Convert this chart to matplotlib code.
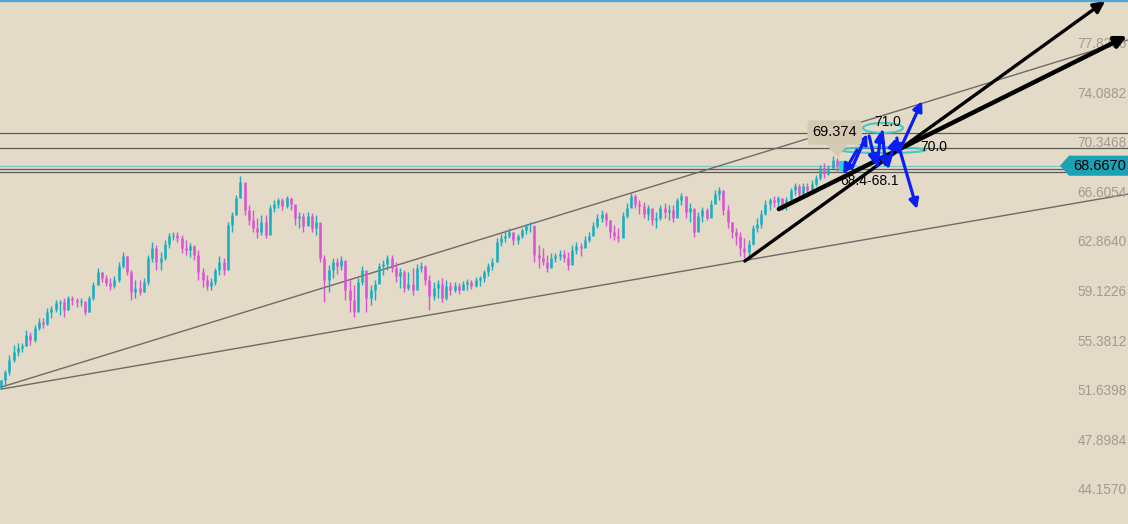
import matplotlib.pyplot as plt
from matplotlib.patches import Ellipse, Polygon, FancyBboxPatch, Rectangle

plt.rcParams['font.family'] = ['Liberation Sans', 'Noto Sans CJK SC', 'DejaVu Sans']

# daily candles: close / high / low (open = previous close)
first_open = 51.90
closes = [52.46, 53.07, 53.97, 54.58, 54.88, 55.03, 55.86, 55.49, 56.39, 56.85,
          56.70, 57.60, 57.83, 58.28, 58.36, 57.75, 58.66, 58.51, 58.36, 58.43,
          57.60, 58.66, 59.64, 60.63, 60.17, 59.80, 59.57, 60.02, 61.08, 61.84,
          60.63, 59.12, 59.42, 59.12, 59.87, 61.69, 62.44, 61.38, 61.69, 62.74,
          63.35, 63.42, 63.20, 62.44, 62.29, 62.59, 61.91, 60.63, 60.02, 59.57,
          59.87, 60.78, 61.38, 60.78, 64.18, 64.94, 66.22, 67.43, 65.32, 64.56,
          63.95, 63.65, 64.41, 63.42, 65.47, 65.77, 66.07, 65.62, 66.22, 65.77,
          64.71, 64.86, 64.11, 64.86, 63.95, 64.41, 61.69, 60.02, 60.78, 61.38,
          61.08, 61.53, 59.27, 58.51, 57.60, 59.87, 60.78, 58.66, 59.27, 59.72,
          61.08, 61.23, 61.69, 60.93, 60.33, 60.63, 59.42, 59.72, 59.27, 60.93,
          61.08, 60.02, 58.81, 59.42, 59.72, 58.66, 59.57, 59.27, 59.57, 59.27,
          59.72, 59.87, 59.57, 60.02, 60.17, 60.63, 61.08, 61.38, 62.89, 63.20,
          63.35, 63.65, 63.05, 63.35, 63.80, 64.11, 64.11, 61.91, 61.69, 61.38,
          60.93, 61.69, 61.84, 61.99, 61.69, 61.16, 62.29, 62.59, 62.44, 63.05,
          63.35, 64.11, 64.71, 65.01, 64.56, 63.65, 63.35, 63.20, 64.86, 65.47,
          66.37, 65.77, 65.62, 65.01, 65.47, 64.56, 64.71, 65.47, 65.16, 65.32,
          64.71, 66.07, 66.37, 65.16, 65.47, 63.65, 64.86, 65.32, 64.71, 65.77,
          66.52, 66.83, 65.32, 64.41, 63.65, 63.35, 62.44, 62.14, 62.74, 63.95,
          64.26, 65.01, 65.77, 66.07, 65.92, 66.22, 65.62, 66.07, 66.83, 67.13,
          66.52, 67.13, 66.83, 67.28, 67.73, 68.49, 68.04, 68.49, 69.09, 68.667]
highs = [52.46, 53.22, 54.35, 55.11, 55.26, 55.26, 56.24, 56.09, 56.62, 57.15,
         57.15, 57.90, 58.06, 58.51, 58.51, 58.66, 58.81, 58.81, 58.66, 58.66,
         58.36, 58.81, 59.87, 60.93, 60.63, 60.40, 60.17, 60.33, 61.38, 62.14,
         61.84, 60.78, 60.02, 60.02, 60.17, 61.91, 62.89, 62.67, 62.14, 63.05,
         63.58, 63.65, 63.65, 63.42, 63.05, 62.82, 62.67, 62.29, 60.93, 60.40,
         60.17, 60.93, 61.84, 61.69, 64.41, 65.16, 66.45, 67.88, 67.20, 65.69,
         65.32, 64.71, 64.94, 64.94, 65.69, 66.07, 66.22, 66.22, 66.37, 66.22,
         65.69, 65.16, 65.09, 65.16, 65.09, 64.94, 64.18, 61.91, 61.16, 61.69,
         61.69, 61.84, 61.38, 60.02, 59.64, 60.17, 61.08, 60.40, 59.64, 60.02,
         61.31, 61.53, 61.91, 61.91, 61.38, 60.93, 60.78, 60.63, 60.93, 61.23,
         61.38, 61.16, 60.40, 59.87, 60.02, 60.17, 60.02, 59.87, 59.87, 59.79,
         59.95, 60.10, 60.02, 60.25, 60.33, 60.78, 61.31, 61.69, 63.20, 63.50,
         63.80, 63.95, 63.65, 63.50, 63.95, 64.26, 64.41, 64.18, 62.67, 62.44,
         61.91, 62.06, 62.06, 62.29, 62.29, 62.14, 62.67, 62.89, 62.82, 63.35,
         63.65, 64.41, 65.01, 65.32, 65.16, 64.56, 64.18, 63.95, 65.16, 65.84,
         66.60, 66.52, 66.07, 65.92, 65.69, 65.32, 65.16, 65.69, 65.84, 65.69,
         65.69, 66.22, 66.60, 66.37, 65.84, 65.32, 65.16, 65.54, 65.47, 66.07,
         66.83, 67.05, 66.67, 65.69, 64.41, 63.95, 63.65, 63.20, 63.05, 64.18,
         64.71, 65.32, 66.07, 66.22, 66.37, 66.37, 66.22, 66.30, 66.98, 67.36,
         67.28, 67.36, 67.36, 67.58, 67.96, 68.72, 68.87, 68.72, 69.374, 69.25]
lows = [51.86, 52.08, 52.84, 53.82, 54.28, 54.58, 55.03, 55.11, 55.33, 56.24,
        56.39, 56.62, 57.15, 57.60, 57.37, 57.22, 57.75, 58.13, 57.98, 58.06,
        57.37, 57.60, 58.51, 59.64, 59.87, 59.57, 59.27, 59.42, 59.87, 60.93,
        60.40, 58.51, 58.66, 58.89, 59.12, 59.64, 61.38, 60.78, 60.78, 61.53,
        62.44, 63.05, 62.89, 62.06, 61.91, 61.76, 61.53, 60.02, 59.49, 59.27,
        59.27, 59.64, 60.40, 60.40, 60.93, 63.65, 64.94, 66.22, 64.94, 64.18,
        63.65, 63.20, 63.42, 63.20, 64.18, 65.16, 65.47, 65.32, 65.47, 65.32,
        64.18, 63.95, 63.65, 64.18, 63.65, 63.42, 61.38, 58.36, 59.12, 60.17,
        60.48, 60.78, 58.51, 57.60, 57.22, 58.51, 59.64, 57.60, 58.13, 58.51,
        59.87, 60.40, 60.78, 60.63, 59.87, 59.42, 59.12, 59.27, 58.89, 59.87,
        60.63, 59.64, 57.75, 58.51, 58.66, 58.36, 58.51, 58.89, 59.12, 58.96,
        59.27, 59.27, 59.34, 59.49, 59.57, 59.87, 60.33, 60.78, 61.38, 62.59,
        62.89, 63.20, 62.67, 62.74, 63.20, 63.50, 63.65, 61.38, 60.93, 61.16,
        60.63, 61.08, 61.38, 61.53, 61.38, 60.78, 61.38, 61.99, 61.84, 62.59,
        62.89, 63.42, 63.95, 64.41, 64.11, 63.20, 63.05, 62.89, 63.42, 64.71,
        65.62, 65.47, 65.01, 64.71, 64.56, 64.18, 63.95, 64.56, 64.71, 64.56,
        64.41, 64.94, 65.69, 64.71, 64.41, 63.27, 63.80, 64.41, 64.56, 65.16,
        65.77, 66.07, 64.94, 63.95, 63.20, 62.67, 61.84, 61.69, 61.53, 62.67,
        63.65, 63.95, 64.94, 65.32, 65.54, 65.47, 65.32, 65.32, 66.07, 66.45,
        66.30, 66.45, 66.30, 66.67, 67.13, 67.58, 67.73, 67.96, 68.49, 68.19]

price_ticks = [77.8296, 74.0882, 70.3468, 66.6054, 62.8640, 59.1226, 55.3812, 51.6398, 47.8984, 44.1570]
last_price = 68.667
h_levels = [71.12, 69.98, 68.40, 68.17]

# drawn objects: (bar index, price) anchors
channel_lines = [((0, 51.93), (268.3, 78.17)), ((0, 51.78), (268.3, 66.52))]
black_arrows = [((177.1, 61.46), (262.9, 81.11), 2.4), ((185.2, 65.39), (268.1, 78.47), 3.2)]
blue_arrows = [((203.8, 69.85), (200.5, 68.03)), ((202.6, 68.49), (206.2, 71.06)),
               ((206.7, 70.91), (208.3, 68.72)), ((208.6, 68.64), (209.5, 71.29)),
               ((209.8, 71.21), (210.7, 68.49)), ((211.2, 68.64), (213.1, 70.76)),
               ((213.3, 70.76), (213.8, 69.47)), ((214.0, 69.85), (219.3, 73.55)),
               ((214.0, 69.85), (218.1, 65.39))]
high_label = "69.374"
target_labels = [("71.0", 211.0, 71.97), ("70.0", 222.0, 70.08), ("68.4-68.1", 206.7, 67.50)]

bg = '#E3DAC8'
up_col = '#17AEC0'
dn_col = '#DA55D2'

fig = plt.figure(figsize=(11.28, 5.24), dpi=100)
fig.patch.set_facecolor(bg)
ax = fig.add_axes([0, 0, 1, 1])
ax.set_facecolor(bg)
ax.set_xlim(-0.24, 268.33)
ax.set_ylim(41.59, 81.19)
ax.axis('off')

# horizontal levels
for lv in h_levels:
    ax.axhline(lv, color='#5E5A55', lw=0.9, zorder=1)
ax.axhline(last_price, color='#7CC4CC', lw=0.9, zorder=1)

# channel lines
for (x0, y0), (x1, y1) in channel_lines:
    ax.plot([x0, x1], [y0, y1], color='#6E6A66', lw=1.0, zorder=2)

# candles
opens = [first_open] + closes[:-1]
for i in range(len(closes)):
    c = up_col if closes[i] >= opens[i] else dn_col
    ax.vlines(i, lows[i], highs[i], color=c, lw=1.0, zorder=3)
    ax.vlines(i, min(opens[i], closes[i]), max(opens[i], closes[i]), color=c, lw=1.8, zorder=3)

# black trend arrows
for (x0, y0), (x1, y1), w in black_arrows:
    ax.annotate('', xy=(x1, y1), xytext=(x0, y0),
                arrowprops=dict(arrowstyle='-|>', color='black', lw=w,
                                mutation_scale=17, shrinkA=0, shrinkB=0), zorder=6)

# cyan ellipses and marker
ax.add_patch(Ellipse((210, 71.52), 9.5, 0.76, fill=False, ec='#45C6C8', lw=1.5, zorder=5))
ax.add_patch(Ellipse((210, 69.85), 20.2, 0.45, fill=False, ec='#45C6C8', lw=1.5, zorder=5))
ax.add_patch(Rectangle((199.6, 68.35), 1.6, 0.7, color='#2BD0D8', zorder=5))

# blue wave arrows
for (x0, y0), (x1, y1) in blue_arrows:
    ax.annotate('', xy=(x1, y1), xytext=(x0, y0),
                arrowprops=dict(arrowstyle='-|>', color='#0A1EF5', lw=2.3,
                                mutation_scale=14, shrinkA=0, shrinkB=0), zorder=7)

# callout box for the high
ax.add_patch(FancyBboxPatch((192.0, 70.25), 13.0, 1.85, boxstyle='round,pad=0,rounding_size=0.6',
                            fc='#D5C9B1', ec='none', zorder=8))
ax.add_patch(Polygon([(196.4, 70.26), (201.5, 70.26), (199.3, 69.3)], closed=True,
                     fc='#D5C9B1', ec='none', zorder=8))
ax.text(198.4, 71.2, high_label, fontsize=10.5, color='black', ha='center', va='center', zorder=9)

for txt, x, y in target_labels:
    ax.text(x, y, txt, fontsize=10, color='black', ha='center', va='center', zorder=9)

# right price axis labels
for t in price_ticks:
    ax.text(0.999, t, f'{t:.4f}', transform=ax.get_yaxis_transform(), fontsize=9.8,
            color='#A29B92', ha='right', va='center', zorder=4)

# last price tag
tr = ax.get_yaxis_transform()
ax.add_patch(Polygon([(0.9397, last_price), (0.9477, last_price + 0.76), (1.0, last_price + 0.76),
                      (1.0, last_price - 0.76), (0.9477, last_price - 0.76)], closed=True,
                     transform=tr, fc='#1BA3B5', ec='none', zorder=10))
ax.text(0.998, last_price, f'{last_price:.4f}', transform=tr, fontsize=10.5, color='black',
        ha='right', va='center', zorder=11)

# top border
fig.add_artist(plt.Line2D([0, 1], [0.998, 0.998], color='#4FA6DA', lw=1.6))

fig.savefig('out.png', dpi=100, facecolor=bg)
